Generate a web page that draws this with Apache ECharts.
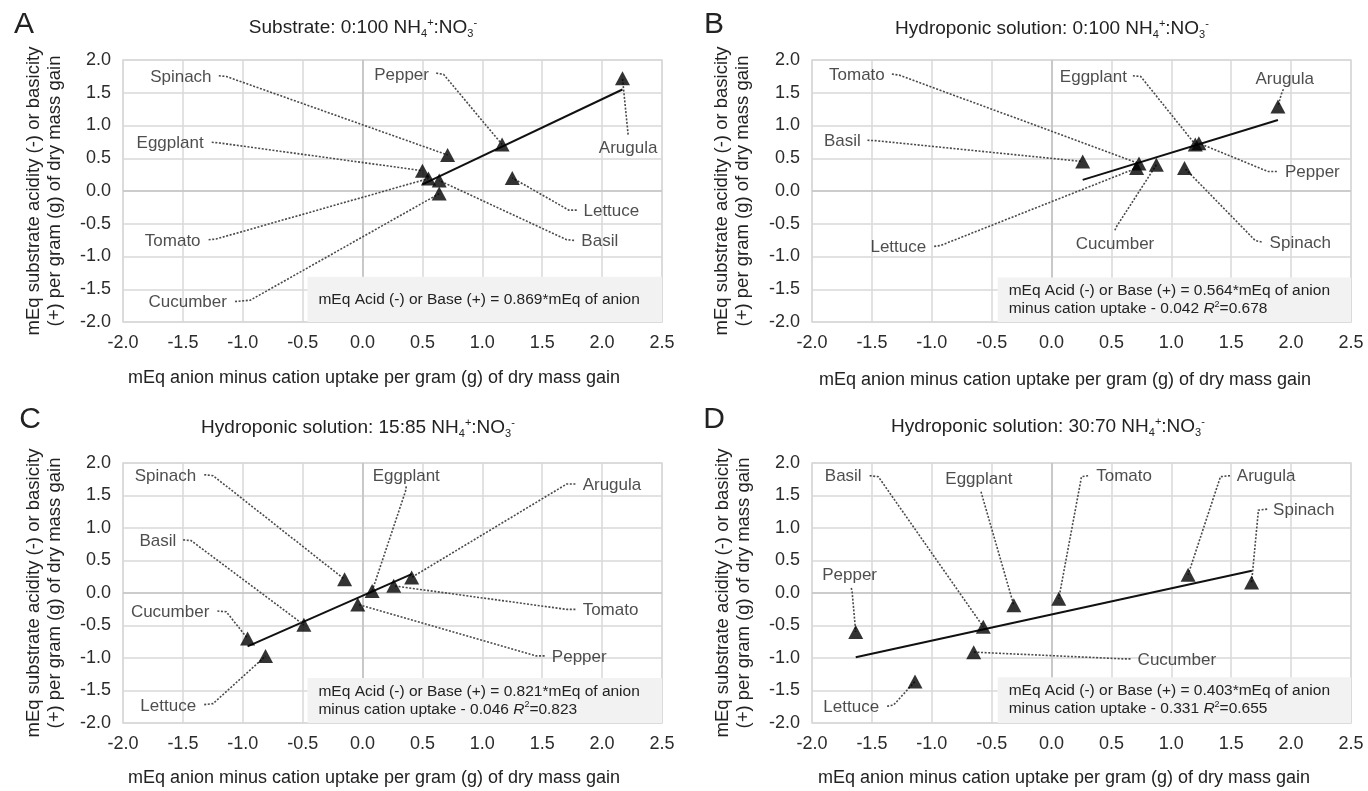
<!DOCTYPE html>
<html><head><meta charset="utf-8">
<script src="https://cdn.jsdelivr.net/npm/echarts@6/dist/echarts.min.js"></script>
<style>html,body{margin:0;padding:0;background:#fff}#c{width:1368px;height:791px}</style>
</head><body><div id="c"></div>
<script>
// ---------- data ----------
const crops = ['Arugula','Basil','Cucumber','Eggplant','Lettuce','Pepper','Spinach','Tomato'];
const letters = ['A','B','C','D'];
const panelTitles = ['Substrate: 0:100 ','Hydroponic solution: 0:100 ','Hydroponic solution: 15:85 ','Hydroponic solution: 30:70 '];
const xRange = [-2, 2.5];
const yRange = [-2, 2];
const tickStep = 0.5;

// x,y values per crop (order of crops)
const xA = [2.17, 0.64, 0.64, 0.50, 1.25, 1.165, 0.71, 0.55];
const yA = [1.72, 0.16, -0.04, 0.31, 0.20, 0.71, 0.55, 0.19];
const xB = [1.89, 0.26, 0.875, 1.20, 0.71, 1.23, 1.11, 0.73];
const yB = [1.29, 0.45, 0.40, 0.71, 0.35, 0.73, 0.35, 0.42];
const xC = [0.41, -0.49, -0.96, 0.08, -0.81, -0.04, -0.15, 0.26];
const yC = [0.24, -0.49, -0.70, 0.03, -0.97, -0.175, 0.21, 0.11];
const xD = [1.14, -0.57, -0.65, -0.315, -1.14, -1.635, 1.67, 0.06];
const yD = [0.28, -0.52, -0.91, -0.19, -1.36, -0.60, 0.16, -0.09];

// trend line end points
const trendXA = [0.50, 2.17],  trendYA = [0.10, 1.55];
const trendXB = [0.26, 1.89],  trendYB = [0.17, 1.085];
const trendXC = [-0.96, 0.41], trendYC = [-0.82, 0.29];
const trendXD = [-1.635, 1.672], trendYD = [-0.99, 0.343];

// regression text
const eqSlope = ['0.869','0.564','0.821','0.403'];
const eqIntercept = [null,'0.042','0.046','0.331'];
const eqR2 = [null,'0.678','0.823','0.655'];

// ---------- annotation layout (data units) ----------
const labelPosA = [[2.217,0.646],[1.814,-0.764],[-1.12,-1.703],[-1.314,0.723],[1.832,-0.303],[0.567,1.769],[-1.248,1.733],[-1.34,-0.764]];
const labelAlignA = ['c','l','r','r','l','r','r','r'];
const stubA = [[2.217,0.86,2.215,0.90],[1.766,-0.754,1.704,-0.744],[-1.065,-1.687,-0.937,-1.667],[-1.259,0.744,-1.193,0.733],[1.788,-0.292,1.722,-0.292],[0.615,1.80,0.677,1.779],[-1.20,1.759,-1.138,1.749],[-1.285,-0.744,-1.223,-0.733]];

const labelPosB = [[1.947,1.71],[-1.58,0.76],[0.53,-0.815],[0.642,1.73],[-1.034,-0.856],[1.936,0.28],[1.808,-0.805],[-1.38,1.76]];
const labelAlignB = ['c','r','c','r','r','l','l','r'];
const stubB = [[1.936,1.554,1.918,1.477],[-1.537,0.774,-1.472,0.769],[0.529,-0.60,0.54,-0.55],[0.679,1.759,0.744,1.749],[-0.98,-0.846,-0.925,-0.831],[1.881,0.297,1.808,0.297],[1.754,-0.779,1.699,-0.754],[-1.333,1.785,-1.271,1.769]];

const labelPosC = [[1.825,1.655],[-1.542,0.79],[-1.267,-0.298],[0.365,1.794],[-1.377,-1.738],[1.568,-0.982],[-1.377,1.794],[1.825,-0.262]];
const labelAlignC = ['l','r','r','c','r','l','r','l'];
const stubC = [[1.777,1.676,1.704,1.676],[-1.498,0.817,-1.432,0.807],[-1.212,-0.278,-1.138,-0.288],[0.365,1.64,0.358,1.563],[-1.322,-1.717,-1.248,-1.702],[1.52,-0.967,1.447,-0.967],[-1.322,1.82,-1.248,1.805],[1.777,-0.252,1.704,-0.252]];

const labelPosD = [[1.534,1.789],[-1.573,1.789],[0.706,-1.028],[-0.607,1.753],[-1.427,-1.758],[-1.686,0.27],[1.837,1.275],[0.36,1.789]];
const labelAlignD = ['l','r','l','c','r','c','l','l'];
const stubD = [[1.49,1.805,1.41,1.789],[-1.519,1.805,-1.446,1.789],[0.659,-1.013,0.597,-1.013],[-0.589,1.558,-0.581,1.506],[-1.373,-1.743,-1.318,-1.722],[-1.672,0.077,-1.665,0.015],[1.80,1.29,1.727,1.275],[0.305,1.805,0.25,1.789]];

const boxLeft = [-0.46,-0.45,-0.46,-0.45];
const boxTop = [-1.31,-1.32,-1.306,-1.296];

// ---------- chart ----------
const FONT = "'Liberation Sans', Arial, sans-serif";
const TXT = '#222';
const panels = [
  {x:xA,y:yA,tx:trendXA,ty:trendYA,lp:labelPosA,la:labelAlignA,st:stubA},
  {x:xB,y:yB,tx:trendXB,ty:trendYB,lp:labelPosB,la:labelAlignB,st:stubB},
  {x:xC,y:yC,tx:trendXC,ty:trendYC,lp:labelPosC,la:labelAlignC,st:stubC},
  {x:xD,y:yD,tx:trendXD,ty:trendYD,lp:labelPosD,la:labelAlignD,st:stubD}
];
const grids = [
  {left:123, top:60, width:539, height:262},
  {left:812, top:60, width:539, height:262},
  {left:123, top:463, width:539, height:260},
  {left:812, top:463, width:539, height:260}
];
const fmt = v => v.toFixed(1);
const xAxis = [], yAxis = [], series = [];
grids.forEach((g, i) => {
  xAxis.push({type:'value', gridIndex:i, min:xRange[0], max:xRange[1], interval:tickStep,
    axisLine:{show:false, onZero:false}, axisTick:{show:false},
    axisLabel:{fontSize:18, fontFamily:FONT, color:'#2b2b2b', margin:12, formatter:fmt, showMinLabel:true, showMaxLabel:true},
    splitLine:{show:true, lineStyle:{color:'#d9d9d9', width:1.5}}});
  yAxis.push({type:'value', gridIndex:i, min:yRange[0], max:yRange[1], interval:tickStep,
    axisLine:{show:false, onZero:false}, axisTick:{show:false},
    axisLabel:{fontSize:18, fontFamily:FONT, color:'#2b2b2b', margin:12, formatter:fmt, showMinLabel:true, showMaxLabel:true},
    splitLine:{show:true, lineStyle:{color:'#d9d9d9', width:1.5}}});
});

panels.forEach((p, i) => {
  let eq;
  if (eqIntercept[i] === null) {
    eq = '{t|mEq Acid (-) or Base (+) = ' + eqSlope[i] + '*mEq of anion}';
  } else {
    eq = '{t|mEq Acid (-) or Base (+) = ' + eqSlope[i] + '*mEq of anion}\n{t|minus cation uptake - ' + eqIntercept[i] + ' }{i|R}{s|2}{t|=' + eqR2[i] + '}';
  }
  // zero lines + equation box holder
  series.push({type:'line', xAxisIndex:i, yAxisIndex:i, data:[], silent:true,
    markLine:{silent:true, z:1, symbol:'none', label:{show:false}, animation:false,
      lineStyle:{color:'#c4c4c4', width:1.7, type:'solid'},
      data:[{xAxis:0},{yAxis:0}]},
    markArea:{silent:true, z:2, animation:false, itemStyle:{color:'#f2f2f2'},
      label:{show:true, position:'insideLeft', distance:11, formatter:eq,
        rich:{
          t:{fontSize:15.5, fontFamily:FONT, color:TXT, lineHeight:18},
          i:{fontSize:15.5, fontFamily:FONT, color:TXT, fontStyle:'italic', lineHeight:18},
          s:{fontSize:9, fontFamily:FONT, color:TXT, verticalAlign:'top', lineHeight:18}
        }},
      data:[[{coord:[boxLeft[i], boxTop[i]]},{coord:[xRange[1], yRange[0]]}]]}
  });
  // trend line
  series.push({type:'line', xAxisIndex:i, yAxisIndex:i, z:3, symbol:'none', silent:true, animation:false,
    lineStyle:{color:'#111', width:2},
    data:p.tx.map((v,k)=>[v, p.ty[k]])});
  // leader lines
  series.push({type:'lines', coordinateSystem:'cartesian2d', xAxisIndex:i, yAxisIndex:i, z:4, polyline:true, silent:true, animation:false,
    lineStyle:{color:'#4a4a4a', width:1.6, type:[2,1.6], opacity:1},
    data:crops.map((c,k)=>({coords:[[p.st[k][0],p.st[k][1]],[p.st[k][2],p.st[k][3]],[p.x[k],p.y[k]]]}))});
  // points
  series.push({type:'scatter', xAxisIndex:i, yAxisIndex:i, z:5, symbol:'triangle', symbolSize:[15,14], animation:false,
    itemStyle:{color:'#000'},
    data:crops.map((c,k)=>({name:c, value:[p.x[k], p.y[k]]}))});
  // labels
  series.push({type:'scatter', xAxisIndex:i, yAxisIndex:i, z:6, symbol:'circle', symbolSize:1, silent:true, animation:false,
    itemStyle:{color:'rgba(0,0,0,0)'},
    label:{show:true, formatter:'{b}', fontSize:17, fontFamily:FONT, color:TXT},
    data:crops.map((c,k)=>({name:c, value:[p.lp[k][0], p.lp[k][1]],
      label:{position: p.la[k]==='r'?'left':(p.la[k]==='l'?'right':'inside'), distance:1}}))});
});

const titlePos = [[363,28],[1052,29],[358,428],[1048,427]];
const letterPos = [[24,25],[714,25],[30,420],[714,420]];
const yNamePos = [[44,191],[732,191],[44,593],[733,593]];
const xNamePos = [[374,378],[1065,380],[374,778],[1064,778]];
const graphic = [];
letters.forEach((L,i)=>{
  graphic.push({type:'text', x:letterPos[i][0], y:letterPos[i][1], style:{text:L, fontSize:30, fontFamily:FONT, fill:TXT, align:'center', verticalAlign:'middle'}});
  graphic.push({type:'text', x:titlePos[i][0], y:titlePos[i][1], style:{
    text:'{n|' + panelTitles[i] + 'NH}{sb|4}{sp|+}{n|:NO}{sb|3}{sp|-}',
    align:'center', verticalAlign:'middle',
    rich:{
      n:{fontSize:19, fontFamily:FONT, fill:TXT, lineHeight:22},
      sb:{fontSize:11, fontFamily:FONT, fill:TXT, verticalAlign:'bottom'},
      sp:{fontSize:11, fontFamily:FONT, fill:TXT, verticalAlign:'top'}
    }}});
  graphic.push({type:'text', x:yNamePos[i][0], y:yNamePos[i][1], rotation:Math.PI/2, style:{
    text:'mEq substrate acidity (-) or basicity\n(+) per gram (g) of dry mass gain',
    fontSize:18.5, fontFamily:FONT, fill:TXT, align:'center', verticalAlign:'middle', lineHeight:21}});
  graphic.push({type:'text', x:xNamePos[i][0], y:xNamePos[i][1], style:{
    text:'mEq anion minus cation uptake per gram (g) of dry mass gain',
    fontSize:18, fontFamily:FONT, fill:TXT, align:'center', verticalAlign:'middle'}});
});

const chart = echarts.init(document.getElementById('c'), null, {renderer:'canvas'});
chart.setOption({animation:false, backgroundColor:'#fff',
  grid:grids.map(g=>Object.assign({show:true, borderColor:'#d9d9d9', borderWidth:1.5, containLabel:false}, g)),
  xAxis, yAxis, series, graphic});
</script></body></html>
